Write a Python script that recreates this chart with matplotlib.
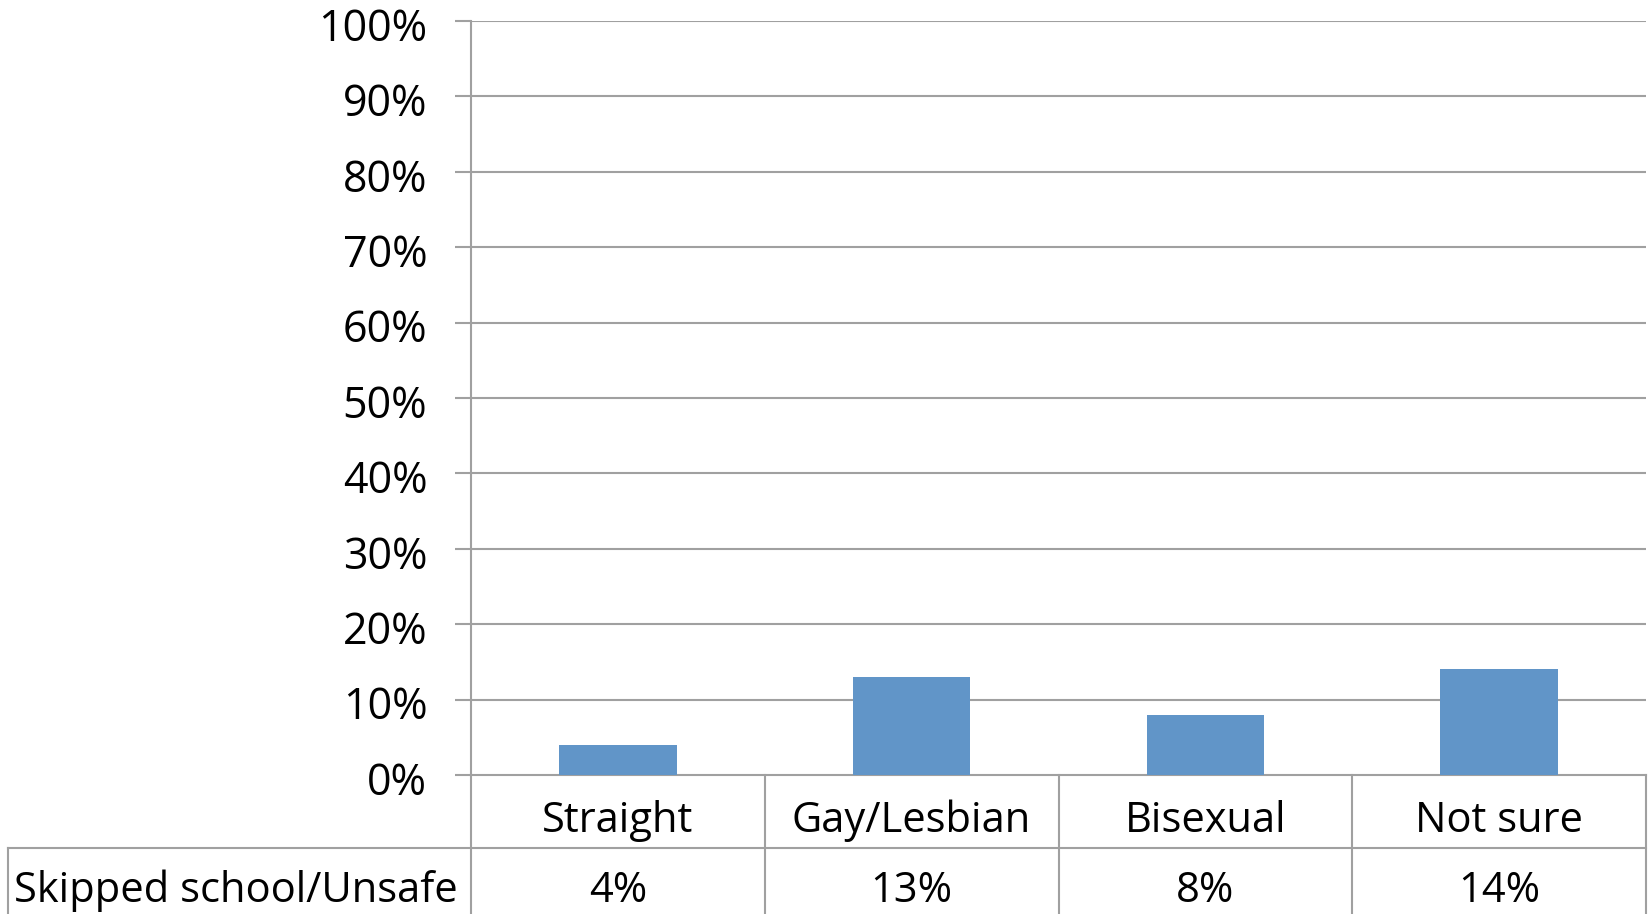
import matplotlib
matplotlib.use("Agg")
import matplotlib.pyplot as plt
from matplotlib.lines import Line2D
from matplotlib.transforms import ScaledTranslation

categories = ["Straight", "Gay/Lesbian", "Bisexual", "Not sure"]
values = [4, 13, 8, 14]
row_label = "Skipped school/Unsafe"
yticks = list(range(0, 101, 10))

W, H = 1648, 914
plt.rcParams['font.family'] = ['Open Sans', 'DejaVu Sans']
fig = plt.figure(figsize=(W / 100, H / 100), dpi=100)

ax_l, ax_r, ax_t, ax_b = 471, 1646, 21, 775
ax = fig.add_axes([ax_l / W, 1 - ax_b / H, (ax_r - ax_l) / W, (ax_b - ax_t) / H])
grid_c = "#a0a0a0"
bar_c = "#6195c8"
fs_tick = 31
fs = 30

x = [i + 0.5 for i in range(len(categories))]
ax.bar(x, values, width=0.4, color=bar_c, zorder=3)
ax.set_xlim(0, len(categories))
ax.set_ylim(0, 100)
ax.set_yticks(yticks)
ax.set_yticklabels([f"{v}%" for v in yticks], fontsize=fs_tick)
ax.tick_params(axis='y', length=11.5, width=1.5, color=grid_c, pad=20)
ax.tick_params(axis='x', bottom=False, labelbottom=False)
offset = ScaledTranslation(0, -3 / 100, fig.dpi_scale_trans)
for lbl in ax.get_yticklabels():
    lbl.set_transform(lbl.get_transform() + offset)
for v in yticks[1:]:
    ax.axhline(v, color=grid_c, lw=1.5, zorder=1)
for s in ["top", "right"]:
    ax.spines[s].set_visible(False)
ax.spines["left"].set_color(grid_c)
ax.spines["left"].set_linewidth(1.5)
ax.spines["bottom"].set_color(grid_c)
ax.spines["bottom"].set_linewidth(1.5)

def fx(px):
    return px / W
def fy(py):
    return 1 - py / H

cell_w = (ax_r - ax_l) / len(categories)
row_sep = 848
tbl_left = 8
lines = []
for i in range(len(categories) + 1):
    xp = ax_l + i * cell_w
    lines.append(Line2D([fx(xp), fx(xp)], [fy(ax_b), fy(H + 2)], color=grid_c, lw=1.5))
lines.append(Line2D([fx(tbl_left), fx(tbl_left)], [fy(row_sep), fy(H + 2)], color=grid_c, lw=1.5))
lines.append(Line2D([fx(tbl_left), fx(ax_r)], [fy(row_sep), fy(row_sep)], color=grid_c, lw=1.5))
for ln in lines:
    fig.add_artist(ln)

for i, (c, v) in enumerate(zip(categories, values)):
    xc = ax_l + (i + 0.5) * cell_w
    fig.text(fx(xc), fy(821), c, ha='center', va='center', fontsize=fs)
    fig.text(fx(xc), fy(891), f"{v}%", ha='center', va='center', fontsize=fs)
fig.text(fx(14), fy(891), row_label, ha='left', va='center', fontsize=fs)

fig.savefig("out.png", dpi=100)
